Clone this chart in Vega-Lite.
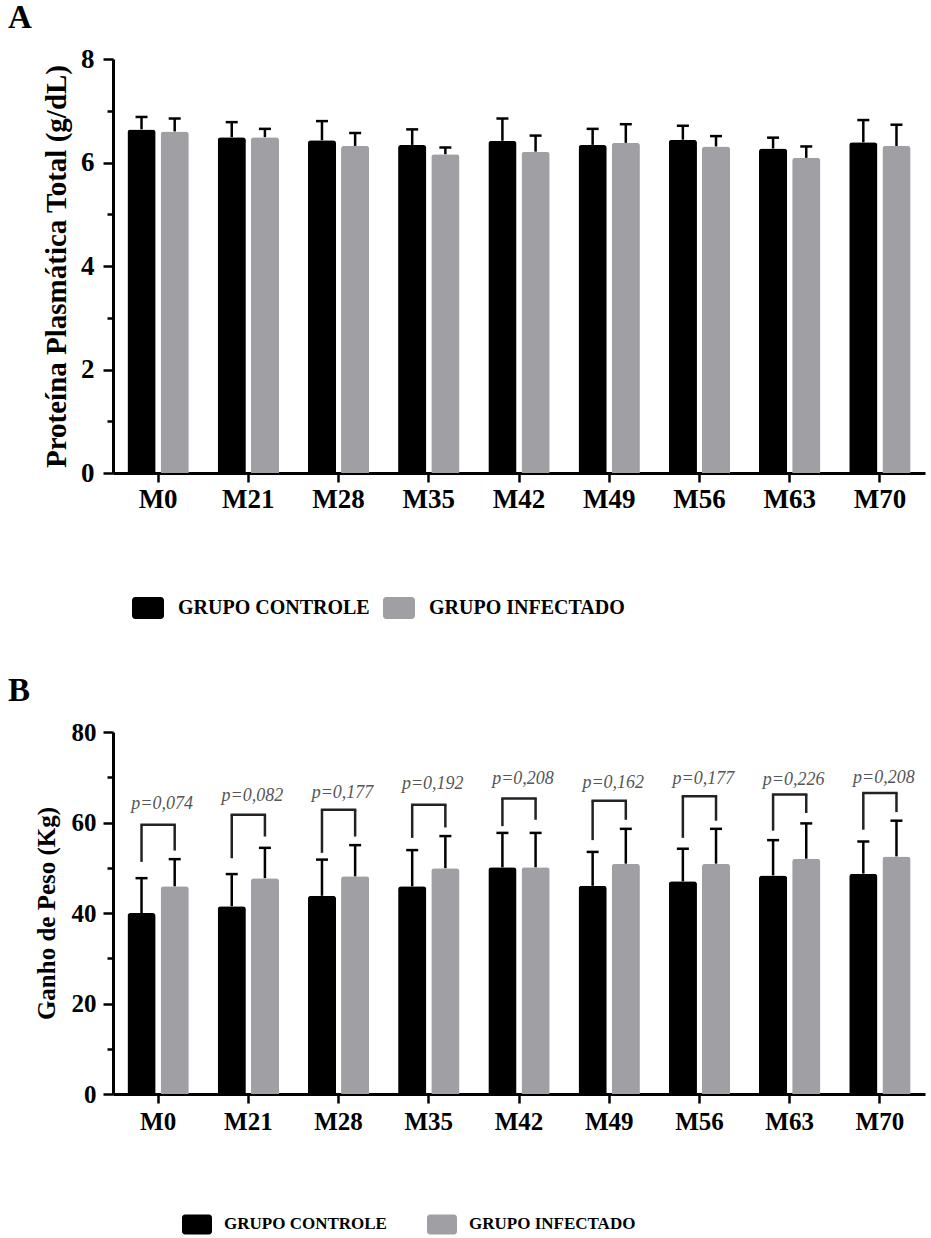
{
  "$schema": "https://vega.github.io/schema/vega-lite/v6.json",
  "padding": {"left": 8, "top": 2, "right": 4, "bottom": 2},
  "background": "white",
  "spacing": 56,
  "datasets": {
    "a": [
      {"m": "M0", "g": "GRUPO CONTROLE", "v": 6.64, "e": 6.88},
      {"m": "M0", "g": "GRUPO INFECTADO", "v": 6.60, "e": 6.85},
      {"m": "M21", "g": "GRUPO CONTROLE", "v": 6.49, "e": 6.78},
      {"m": "M21", "g": "GRUPO INFECTADO", "v": 6.49, "e": 6.65},
      {"m": "M28", "g": "GRUPO CONTROLE", "v": 6.43, "e": 6.80},
      {"m": "M28", "g": "GRUPO INFECTADO", "v": 6.32, "e": 6.57},
      {"m": "M35", "g": "GRUPO CONTROLE", "v": 6.34, "e": 6.64},
      {"m": "M35", "g": "GRUPO INFECTADO", "v": 6.16, "e": 6.29},
      {"m": "M42", "g": "GRUPO CONTROLE", "v": 6.42, "e": 6.85},
      {"m": "M42", "g": "GRUPO INFECTADO", "v": 6.21, "e": 6.52},
      {"m": "M49", "g": "GRUPO CONTROLE", "v": 6.34, "e": 6.65},
      {"m": "M49", "g": "GRUPO INFECTADO", "v": 6.38, "e": 6.74},
      {"m": "M56", "g": "GRUPO CONTROLE", "v": 6.44, "e": 6.71},
      {"m": "M56", "g": "GRUPO INFECTADO", "v": 6.31, "e": 6.51},
      {"m": "M63", "g": "GRUPO CONTROLE", "v": 6.27, "e": 6.48},
      {"m": "M63", "g": "GRUPO INFECTADO", "v": 6.09, "e": 6.31},
      {"m": "M70", "g": "GRUPO CONTROLE", "v": 6.39, "e": 6.82},
      {"m": "M70", "g": "GRUPO INFECTADO", "v": 6.32, "e": 6.73}
    ],
    "b": [
      {"m": "M0", "g": "GRUPO CONTROLE", "v": 40.0, "e": 47.7},
      {"m": "M0", "g": "GRUPO INFECTADO", "v": 45.9, "e": 51.9},
      {"m": "M21", "g": "GRUPO CONTROLE", "v": 41.5, "e": 48.6},
      {"m": "M21", "g": "GRUPO INFECTADO", "v": 47.7, "e": 54.4},
      {"m": "M28", "g": "GRUPO CONTROLE", "v": 43.8, "e": 51.8},
      {"m": "M28", "g": "GRUPO INFECTADO", "v": 48.1, "e": 55.0},
      {"m": "M35", "g": "GRUPO CONTROLE", "v": 45.9, "e": 53.9},
      {"m": "M35", "g": "GRUPO INFECTADO", "v": 49.9, "e": 57.0},
      {"m": "M42", "g": "GRUPO CONTROLE", "v": 50.1, "e": 57.7},
      {"m": "M42", "g": "GRUPO INFECTADO", "v": 50.1, "e": 57.7},
      {"m": "M49", "g": "GRUPO CONTROLE", "v": 46.0, "e": 53.5},
      {"m": "M49", "g": "GRUPO INFECTADO", "v": 50.9, "e": 58.6},
      {"m": "M56", "g": "GRUPO CONTROLE", "v": 47.0, "e": 54.2},
      {"m": "M56", "g": "GRUPO INFECTADO", "v": 50.9, "e": 58.6},
      {"m": "M63", "g": "GRUPO CONTROLE", "v": 48.3, "e": 56.1},
      {"m": "M63", "g": "GRUPO INFECTADO", "v": 52.0, "e": 59.8},
      {"m": "M70", "g": "GRUPO CONTROLE", "v": 48.7, "e": 55.8},
      {"m": "M70", "g": "GRUPO INFECTADO", "v": 52.5, "e": 60.4}
    ],
    "legs": [
      {"m": "M0", "g": "GRUPO CONTROLE", "lo": 51.3, "hi": 59.5},
      {"m": "M0", "g": "GRUPO INFECTADO", "lo": 53.8, "hi": 59.5},
      {"m": "M21", "g": "GRUPO CONTROLE", "lo": 52.1, "hi": 61.7},
      {"m": "M21", "g": "GRUPO INFECTADO", "lo": 56.9, "hi": 61.7},
      {"m": "M28", "g": "GRUPO CONTROLE", "lo": 53.3, "hi": 62.8},
      {"m": "M28", "g": "GRUPO INFECTADO", "lo": 56.9, "hi": 62.8},
      {"m": "M35", "g": "GRUPO CONTROLE", "lo": 56.6, "hi": 63.9},
      {"m": "M35", "g": "GRUPO INFECTADO", "lo": 58.9, "hi": 63.9},
      {"m": "M42", "g": "GRUPO CONTROLE", "lo": 59.2, "hi": 65.3},
      {"m": "M42", "g": "GRUPO INFECTADO", "lo": 60.6, "hi": 65.3},
      {"m": "M49", "g": "GRUPO CONTROLE", "lo": 56.1, "hi": 64.8},
      {"m": "M49", "g": "GRUPO INFECTADO", "lo": 60.6, "hi": 64.8},
      {"m": "M56", "g": "GRUPO CONTROLE", "lo": 56.6, "hi": 65.8},
      {"m": "M56", "g": "GRUPO INFECTADO", "lo": 60.4, "hi": 65.8},
      {"m": "M63", "g": "GRUPO CONTROLE", "lo": 58.2, "hi": 66.2},
      {"m": "M63", "g": "GRUPO INFECTADO", "lo": 62.1, "hi": 66.2},
      {"m": "M70", "g": "GRUPO CONTROLE", "lo": 58.4, "hi": 66.5},
      {"m": "M70", "g": "GRUPO INFECTADO", "lo": 62.3, "hi": 66.5}
    ],
    "pv": [
      {"m": "M0", "top": 59.5, "ty": 64.0, "p": "p=0,074"},
      {"m": "M21", "top": 61.7, "ty": 65.8, "p": "p=0,082"},
      {"m": "M28", "top": 62.8, "ty": 66.5, "p": "p=0,177"},
      {"m": "M35", "top": 63.9, "ty": 68.4, "p": "p=0,192"},
      {"m": "M42", "top": 65.3, "ty": 69.7, "p": "p=0,208"},
      {"m": "M49", "top": 64.8, "ty": 68.8, "p": "p=0,162"},
      {"m": "M56", "top": 65.8, "ty": 69.7, "p": "p=0,177"},
      {"m": "M63", "top": 66.2, "ty": 69.5, "p": "p=0,226"},
      {"m": "M70", "top": 66.5, "ty": 69.8, "p": "p=0,208"}
    ]
  },
  "vconcat": [
    {
      "title": {"text": "A", "anchor": "start", "frame": "group", "dx": -105, "offset": 10, "fontSize": 33},
      "width": 812,
      "height": 414,
      "layer": [
        {
          "data": {"name": "a"},
          "mark": {"type": "bar", "cornerRadiusTopLeft": 3, "cornerRadiusTopRight": 3},
          "encoding": {
            "x": {"field": "m", "type": "nominal", "sort": ["M0","M21","M28","M35","M42","M49","M56","M63","M70"],
                  "scale": {"paddingInner": 0.32, "paddingOuter": 0.16},
                  "axis": {"title": null, "labelAngle": 0, "tickSize": 9, "labelPadding": 4, "labelFontSize": 27}},
            "xOffset": {"field": "g", "type": "nominal", "scale": {"paddingInner": 0.15, "paddingOuter": 0}},
            "y": {"field": "v", "type": "quantitative", "scale": {"domain": [0, 8], "nice": false},
                  "axis": {"title": "Proteína Plasmática Total (g/dL)", "titleFontSize": 29, "titlePadding": 9,
                           "values": [0,0.5,1,1.5,2,2.5,3,3.5,4,4.5,5,5.5,6,6.5,7,7.5,8],
                           "labelExpr": "datum.value % 2 === 0 ? datum.label : ''",
                           "tickSize": {"condition": {"test": "datum.value % 2 === 0", "value": 10}, "value": 6},
                           "labelFontSize": 27, "labelPadding": 9}},
            "color": {"field": "g", "type": "nominal",
                      "scale": {"domain": ["GRUPO CONTROLE", "GRUPO INFECTADO"], "range": ["#000000", "#a09fa4"]},
                      "legend": {"title": null, "orient": "none", "direction": "horizontal", "legendX": 19, "legendY": 533,
                                 "symbolType": "M-0.8,-0.6875H0.8A0.2,0.2 0 0 1 1,-0.4875V0.4875A0.2,0.2 0 0 1 0.8,0.6875H-0.8A0.2,0.2 0 0 1 -1,0.4875V-0.4875A0.2,0.2 0 0 1 -0.8,-0.6875Z",
                                 "symbolSize": 1024, "symbolStrokeWidth": 0, "symbolOpacity": 1,
                                 "labelFontSize": 20, "labelFont": "Liberation Serif", "labelFontWeight": "bold", "labelColor": "black",
                                 "labelLimit": 400, "labelOffset": 14, "columnPadding": 13, "padding": 0}}
          }
        },
        {
          "data": {"name": "a"},
          "mark": {"type": "rule", "color": "black", "strokeWidth": 2.5},
          "encoding": {
            "x": {"field": "m", "type": "nominal", "sort": ["M0","M21","M28","M35","M42","M49","M56","M63","M70"]},
            "xOffset": {"field": "g", "type": "nominal"},
            "y": {"field": "v", "type": "quantitative"},
            "y2": {"field": "e"}
          }
        },
        {
          "data": {"name": "a"},
          "mark": {"type": "tick", "color": "black", "size": 12, "thickness": 2.5, "opacity": 1},
          "encoding": {
            "x": {"field": "m", "type": "nominal", "sort": ["M0","M21","M28","M35","M42","M49","M56","M63","M70"]},
            "xOffset": {"field": "g", "type": "nominal"},
            "y": {"field": "e", "type": "quantitative"}
          }
        }
      ]
    },
    {
      "title": {"text": "B", "anchor": "start", "frame": "group", "dx": -105, "offset": 12, "fontSize": 33},
      "width": 812,
      "height": 362,
      "layer": [
        {
          "data": {"name": "b"},
          "mark": {"type": "bar", "cornerRadiusTopLeft": 3, "cornerRadiusTopRight": 3},
          "encoding": {
            "x": {"field": "m", "type": "nominal", "sort": ["M0","M21","M28","M35","M42","M49","M56","M63","M70"],
                  "scale": {"paddingInner": 0.32, "paddingOuter": 0.16},
                  "axis": {"title": null, "labelAngle": 0, "tickSize": 9, "labelPadding": 6, "labelFontSize": 25}},
            "xOffset": {"field": "g", "type": "nominal", "scale": {"paddingInner": 0.15, "paddingOuter": 0}},
            "y": {"field": "v", "type": "quantitative", "scale": {"domain": [0, 80], "nice": false},
                  "axis": {"title": "Ganho de Peso (Kg)", "titleFontSize": 25, "titlePadding": 12,
                           "values": [0,5,10,15,20,25,30,35,40,45,50,55,60,65,70,75,80],
                           "labelExpr": "datum.value % 20 === 0 ? datum.label : ''",
                           "tickSize": {"condition": {"test": "datum.value % 20 === 0", "value": 10}, "value": 6},
                           "labelFontSize": 25, "labelPadding": 7}},
            "color": {"field": "g", "type": "nominal",
                      "scale": {"domain": ["GRUPO CONTROLE", "GRUPO INFECTADO"], "range": ["#000000", "#a09fa4"]},
                      "legend": {"title": null, "orient": "none", "direction": "horizontal", "legendX": 69, "legendY": 477,
                                 "symbolType": "M-0.8,-0.6667H0.8A0.2,0.2 0 0 1 1,-0.4667V0.4667A0.2,0.2 0 0 1 0.8,0.6667H-0.8A0.2,0.2 0 0 1 -1,0.4667V-0.4667A0.2,0.2 0 0 1 -0.8,-0.6667Z",
                                 "symbolSize": 900, "symbolStrokeWidth": 0, "symbolOpacity": 1,
                                 "labelFontSize": 17, "labelFont": "Liberation Serif", "labelFontWeight": "bold", "labelColor": "black",
                                 "labelLimit": 400, "labelOffset": 12, "columnPadding": 40, "padding": 0}}
          }
        },
        {
          "data": {"name": "b"},
          "mark": {"type": "rule", "color": "black", "strokeWidth": 2.5},
          "encoding": {
            "x": {"field": "m", "type": "nominal", "sort": ["M0","M21","M28","M35","M42","M49","M56","M63","M70"]},
            "xOffset": {"field": "g", "type": "nominal"},
            "y": {"field": "v", "type": "quantitative"},
            "y2": {"field": "e"}
          }
        },
        {
          "data": {"name": "b"},
          "mark": {"type": "tick", "color": "black", "size": 12, "thickness": 2.5, "opacity": 1},
          "encoding": {
            "x": {"field": "m", "type": "nominal", "sort": ["M0","M21","M28","M35","M42","M49","M56","M63","M70"]},
            "xOffset": {"field": "g", "type": "nominal"},
            "y": {"field": "e", "type": "quantitative"}
          }
        },
        {
          "data": {"name": "legs"},
          "mark": {"type": "rule", "color": "#222222", "strokeWidth": 2.5},
          "encoding": {
            "x": {"field": "m", "type": "nominal", "sort": ["M0","M21","M28","M35","M42","M49","M56","M63","M70"]},
            "xOffset": {"field": "g", "type": "nominal"},
            "y": {"field": "lo", "type": "quantitative"},
            "y2": {"field": "hi"}
          }
        },
        {
          "data": {"name": "pv"},
          "mark": {"type": "tick", "color": "#222222", "size": 35.5, "thickness": 2.5, "opacity": 1},
          "encoding": {
            "x": {"field": "m", "type": "nominal", "sort": ["M0","M21","M28","M35","M42","M49","M56","M63","M70"]},
            "y": {"field": "top", "type": "quantitative"}
          }
        },
        {
          "data": {"name": "pv"},
          "mark": {"type": "text", "font": "Liberation Serif", "fontStyle": "italic", "fontSize": 18, "color": "#555555", "baseline": "middle", "dx": 4},
          "encoding": {
            "x": {"field": "m", "type": "nominal", "sort": ["M0","M21","M28","M35","M42","M49","M56","M63","M70"]},
            "y": {"field": "ty", "type": "quantitative"},
            "text": {"field": "p"}
          }
        }
      ]
    }
  ],
  "resolve": {"scale": {"color": "independent"}, "legend": {"color": "independent"}},
  "config": {
    "font": "Liberation Serif",
    "view": {"stroke": null},
    "title": {"font": "Liberation Serif", "fontWeight": "bold", "color": "black"},
    "axis": {
      "grid": false,
      "domainColor": "black", "domainWidth": 3,
      "tickColor": "black", "tickWidth": 2.5,
      "labelColor": "black", "labelFont": "Liberation Serif", "labelFontWeight": "bold",
      "titleColor": "black", "titleFont": "Liberation Serif", "titleFontWeight": "bold"
    }
  }
}
